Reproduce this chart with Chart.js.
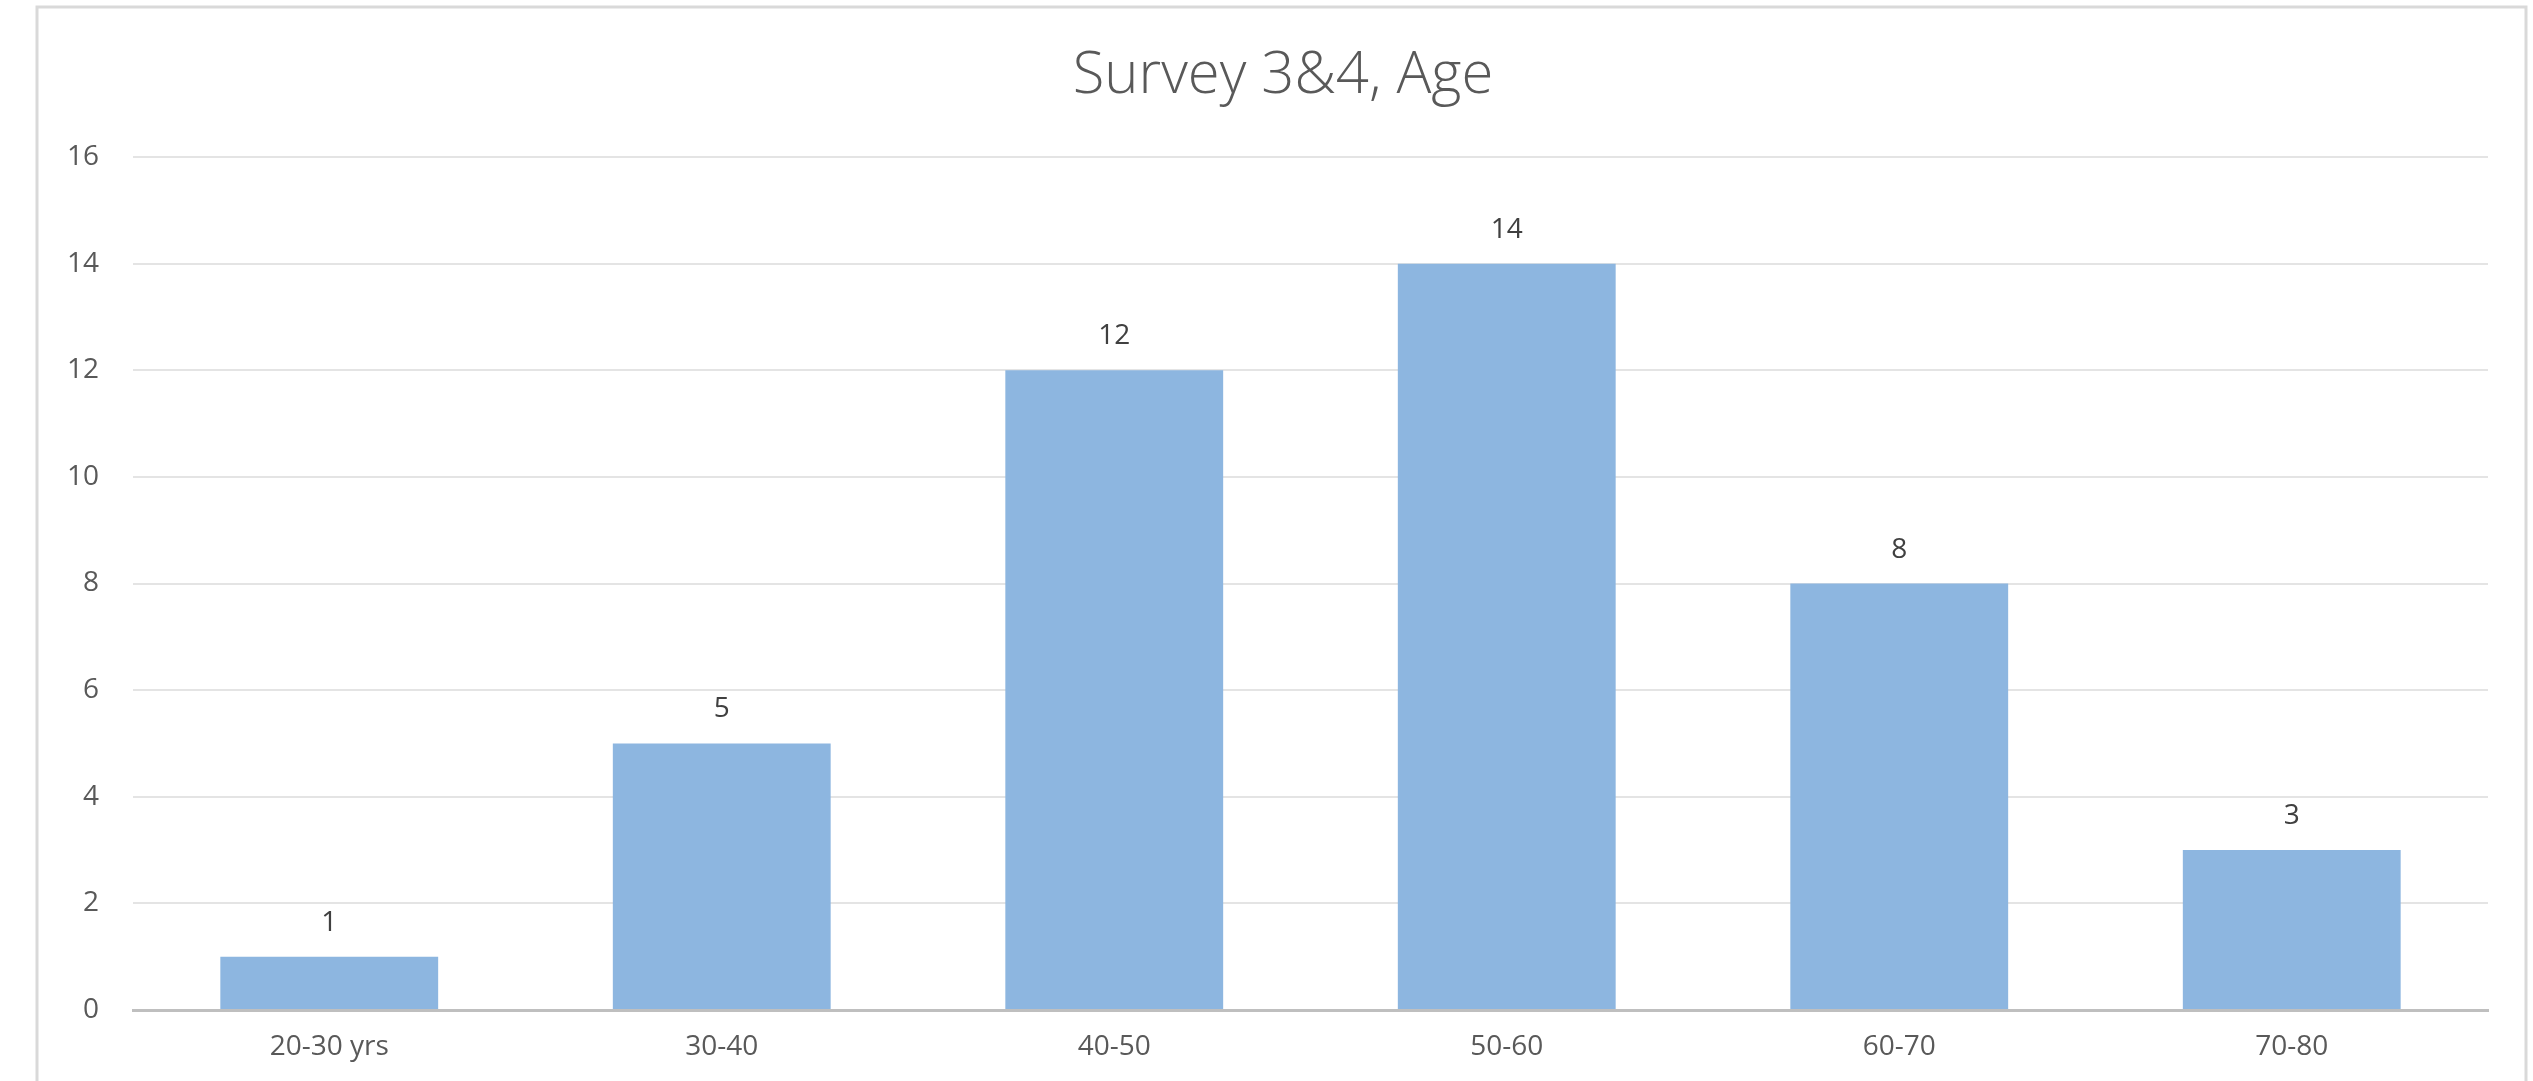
<!DOCTYPE html>
<html>
<head>
<meta charset="utf-8">
<title>Survey 3&amp;4, Age</title>
<script src="https://cdn.jsdelivr.net/npm/chart.js@4.4.1/dist/chart.umd.min.js"></script>
<style>
  html, body { margin: 0; padding: 0; background: #ffffff; }
  canvas { display: block; }
</style>
</head>
<body>
<canvas id="ageChart" width="2533" height="1081"></canvas>
<script>
// Age groups and respondent counts
const ageGroups = ['20-30 yrs', '30-40', '40-50', '50-60', '60-70', '70-80'];
const respondents = [1, 5, 12, 14, 8, 3];
const chartTitle = 'Survey 3&4, Age';
const yMin = 0;
const yMax = 16;
const yStep = 2;

const TEXT = '#595959';
const FONT = "'Open Sans', 'Noto Sans', sans-serif";

// White background, thin frame and centred title
const frameAndTitle = {
  id: 'frameAndTitle',
  beforeDraw(chart) {
    const ctx = chart.ctx;
    ctx.save();
    ctx.fillStyle = '#ffffff';
    ctx.fillRect(0, 0, chart.width, chart.height);
    ctx.strokeStyle = '#d9d9d9';
    ctx.lineWidth = 3;
    ctx.strokeRect(37, 7, 2489, 1090);
    ctx.restore();
  },
  afterDraw(chart) {
    const ctx = chart.ctx;
    ctx.save();
    ctx.fillStyle = TEXT;
    ctx.font = "300 58px " + FONT;
    ctx.textAlign = 'center';
    ctx.textBaseline = 'alphabetic';
    ctx.fillText(chartTitle, 1283, 93);
    ctx.restore();
  }
};

// Count printed above each bar
const valueLabels = {
  id: 'valueLabels',
  afterDatasetsDraw(chart) {
    const ctx = chart.ctx;
    const meta = chart.getDatasetMeta(0);
    const values = chart.data.datasets[0].data;
    ctx.save();
    ctx.fillStyle = '#404040';
    ctx.font = "28px " + FONT;
    ctx.textAlign = 'center';
    ctx.textBaseline = 'alphabetic';
    meta.data.forEach((bar, i) => {
      ctx.fillText(String(values[i]), bar.x, bar.y - 26);
    });
    ctx.restore();
  }
};

new Chart(document.getElementById('ageChart'), {
  type: 'bar',
  data: {
    labels: ageGroups,
    datasets: [{
      data: respondents,
      backgroundColor: '#8db6e0',
      borderWidth: 0,
      barPercentage: 0.555,
      categoryPercentage: 1.0
    }]
  },
  options: {
    responsive: false,
    animation: false,
    devicePixelRatio: 1,
    layout: { padding: { left: 40, right: 45, top: 157, bottom: 11 } },
    plugins: {
      legend: { display: false },
      title: { display: false },
      tooltip: { enabled: false }
    },
    scales: {
      x: {
        z: 1,
        grid: { display: false, drawTicks: false },
        border: { display: true, color: '#bfbfbf', width: 3 },
        ticks: { color: TEXT, font: { family: FONT, size: 28 }, padding: 20 },
        afterFit(scale) { scale.height = 60; }
      },
      y: {
        min: yMin,
        max: yMax,
        grid: { color: '#e4e4e4', lineWidth: 2, drawTicks: false },
        border: { display: false },
        ticks: {
          stepSize: yStep,
          color: TEXT,
          font: { family: FONT, size: 28 },
          padding: 34
        },
        afterFit(scale) { scale.width = 93; }
      }
    }
  },
  plugins: [frameAndTitle, valueLabels]
});
</script>
</body>
</html>
